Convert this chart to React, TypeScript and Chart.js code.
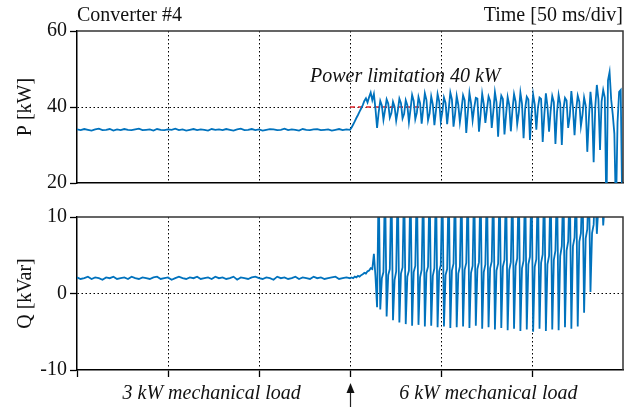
import { useEffect, useRef } from 'react';
import { Chart, registerables } from 'chart.js';

Chart.register(...registerables);

const SERIF = "'Liberation Serif', 'Times New Roman', Times, serif";
const BLUE = '#0072BD';
const RED = '#E0262B';
const CLEAR = 'rgba(0,0,0,0)';

// time axis (ms): 6 divisions of 50 ms
const T_MIN = 0;
const T_MAX = 300;
const T_DIV = 50;
const T_STEP = 150; // load step instant
const DT_BEFORE = 2; // sample spacing before the step (ms)
const DT_AFTER = 0.875; // sample spacing after the step (ms)

const TITLE_LEFT = 'Converter #4';
const TITLE_RIGHT = 'Time [50 ms/div]';
const LIMIT_LABEL = 'Power limitation 40 kW';
const LOAD_BEFORE_LABEL = '3 kW mechanical load';
const LOAD_AFTER_LABEL = '6 kW mechanical load';

const P_TICKS = [20, 40, 60];
const Q_TICKS = [-10, 0, 10];

// power limit reference (red dashed)
const LIMIT_T = [150, 188];
const LIMIT_P = [40, 40];

// P [kW], t = 0..150 ms every 2 ms
const P_BEFORE = [
  34.1, 33.9, 34.2, 34.0, 33.8, 34.1, 34.3, 33.9, 34.0, 34.2, 33.8, 34.1, 33.9, 34.2, 34.0, 33.9, 34.1, 34.3, 33.9, 34.0,
  34.1, 33.8, 34.2, 34.0, 33.9, 34.1, 34.0, 34.3, 33.9, 34.1, 33.8, 34.0, 34.2, 33.9, 34.1, 34.0, 33.8, 34.2, 34.0, 34.1,
  33.9, 34.2, 34.0, 33.8, 34.1, 34.3, 33.9, 34.0, 34.2, 33.9, 34.1, 33.8, 34.0, 34.2, 34.1, 33.9, 34.0, 34.3, 33.9, 34.1,
  34.0, 33.8, 34.2, 34.0, 33.9, 34.1, 34.2, 33.9, 34.0, 34.1, 33.8, 34.0, 34.2, 33.9, 34.1, 34.0,
];

// P [kW], t = 150.875 .. 299.625 ms every 0.875 ms
const P_AFTER = [
  34.6, 35.4, 36.2, 37.1, 37.9, 38.8, 39.6, 40.5, 41.6, 42.3, 41.2, 42.6, 43.8, 41.8, 43.4, 39.5, 34.5,
  38.6, 41.6, 40.4, 36.6,
  39.2, 42.0, 40.9, 37.2,
  38.4, 41.4, 40.1, 36.4,
  39.0, 42.2, 41.0, 37.0,
  38.2, 41.8, 40.5, 36.0,
  39.4, 43.2, 41.6, 36.8,
  38.5, 42.6, 41.0, 35.6,
  39.6, 43.6, 41.9, 36.5,
  38.3, 42.8, 40.7, 35.2,
  39.1, 43.4, 41.5, 36.2,
  38.7, 42.5, 41.1, 35.5,
  39.5, 43.8, 42.0, 34.8,
  38.2, 42.9, 40.6, 36.0,
  39.3, 43.1, 41.8, 33.2,
  38.6, 43.7, 41.0, 36.5,
  39.8, 42.4, 42.2, 33.5,
  38.1, 43.5, 40.8, 35.8,
  39.4, 42.8, 41.6, 34.5,
  38.8, 43.9, 41.2, 32.2,
  39.7, 43.0, 42.1, 32.8,
  38.0, 42.6, 40.5, 33.6,
  39.2, 43.4, 41.4, 35.5,
  38.5, 43.8, 40.9, 31.8,
  39.6, 42.7, 42.0, 31.3,
  38.3, 43.3, 40.7, 34.0,
  39.8, 42.5, 42.1, 30.8,
  37.8, 43.6, 40.2, 33.5,
  39.0, 42.9, 41.3, 30.3,
  38.6, 43.2, 40.9, 30.0,
  39.4, 42.4, 41.7, 34.5,
  37.5, 44.2, 39.8, 32.6,
  39.2, 43.0, 41.4, 35.0,
  38.0, 42.5, 40.4, 28.2,
  37.0, 44.0, 39.5, 25.5,
  40.0, 45.8, 42.0, 28.7,
  41.5, 44.5, 42.5, 12.0,
  47.0, 49.2, 42.0, 38.0, 33.0, 12.0, 36.0, 44.0, 44.5, 12.0,
];

// Q [kVar], t = 0..150 ms every 2 ms
const Q_BEFORE = [
  2.1, 1.9, 2.0, 2.2, 1.9, 2.1, 2.0, 1.8, 2.1, 2.0, 2.2, 1.9, 2.0, 2.1, 1.9, 2.2, 2.0, 1.9, 2.1, 2.0,
  1.9, 2.1, 2.2, 1.9, 2.0, 2.1, 1.8, 2.0, 2.2, 2.0, 1.9, 2.1, 2.0, 2.2, 1.9, 2.0, 2.1, 1.9, 2.2, 2.0,
  2.1, 1.9, 2.0, 2.2, 1.8, 2.1, 2.0, 1.9, 2.1, 2.2, 2.0, 1.9, 2.1, 2.0, 1.8, 2.2, 2.0, 2.1, 1.9, 2.0,
  2.2, 1.9, 2.1, 2.0, 1.9, 2.2, 2.0, 2.1, 1.9, 2.0, 2.1, 2.2, 1.9, 2.0, 2.1, 2.0,
];

// Q [kVar], t = 150.875 .. 299.625 ms every 0.875 ms
const Q_AFTER = [
  2.1, 2.0, 2.2, 2.1, 2.3, 2.2, 2.4, 2.5, 2.7, 2.6, 2.9, 3.0, 3.3, 3.2, 5.2, 2.2, -1.8,
  15, -2.1, 2.0, 2.8,
  15, -3.0, 2.4, 3.2,
  15, -3.5, 1.8, 2.9,
  15, -3.8, 2.6, 3.4,
  15, -4.0, 2.2, 3.0,
  15, -4.2, 2.8, 3.6,
  15, -4.1, 2.1, 3.1,
  15, -4.3, 2.7, 3.5,
  15, -4.2, 2.3, 3.3,
  15, -4.4, 2.9, 3.7,
  15, -4.3, 2.4, 3.2,
  15, -4.5, 3.0, 3.9,
  15, -4.4, 2.6, 3.5,
  15, -4.3, 3.1, 4.0,
  15, -4.5, 2.7, 3.6,
  15, -4.2, 3.2, 4.1,
  15, -4.6, 2.8, 3.8,
  15, -4.4, 3.3, 4.2,
  15, -4.7, 3.0, 3.9,
  15, -4.5, 3.5, 4.4,
  15, -4.8, 3.1, 4.1,
  15, -4.6, 3.6, 4.6,
  15, -4.9, 3.3, 4.3,
  15, -4.7, 3.8, 4.8,
  15, -5.0, 3.5, 4.5,
  15, -4.6, 4.0, 5.1,
  15, -4.9, 3.8, 4.9,
  15, -4.7, 4.4, 5.6,
  15, -4.8, 4.9, 6.2,
  15, -4.4, 5.6, 6.8,
  15, -4.6, 6.2, 7.3,
  15, -4.3, 6.8, 7.9,
  15, -2.5, 7.2, 8.4,
  15, 0.2, 7.9, 9.0,
  15, 7.8, 11.5, 12.5,
  15, 8.9, 12.0, 13.0,
  14, 15, 14, 15, 14, 15, 14, 15, 14, 15,
];

function toPoints(before: number[], after: number[]) {
  const pts = before.map((v, i) => ({ x: T_MIN + i * DT_BEFORE, y: v }));
  after.forEach((v, i) => pts.push({ x: T_STEP + (i + 1) * DT_AFTER, y: v }));
  return pts;
}

function makeScales(opts: {
  ticks: number[];
  gridAt: number;
  title: string;
  bottomTicks: boolean;
  xHeight: number;
}) {
  const yMin = opts.ticks[0];
  const yMax = opts.ticks[opts.ticks.length - 1];
  return {
    x: {
      type: 'linear',
      min: T_MIN,
      max: T_MAX,
      ticks: { display: false, stepSize: T_DIV },
      grid: {
        color: (c: any) => (c.tick && c.tick.value > T_MIN && c.tick.value < T_MAX ? '#000' : CLEAR),
        lineWidth: 1,
        drawTicks: opts.bottomTicks,
        tickLength: 7,
        tickWidth: 1.3,
        tickColor: (c: any) => (c.tick && c.tick.value < T_MAX ? '#000' : CLEAR),
      },
      border: { display: true, color: '#000', width: 1.5, dash: [1.5, 2.5] },
      afterFit: (s: any) => {
        s.height = opts.xHeight;
      },
    },
    y: {
      type: 'linear',
      min: yMin,
      max: yMax,
      afterBuildTicks: (s: any) => {
        s.ticks = opts.ticks.map((v) => ({ value: v }));
      },
      ticks: {
        color: '#111',
        padding: 3,
        font: { family: SERIF, size: 20 },
      },
      grid: {
        color: (c: any) => (c.tick && c.tick.value === opts.gridAt ? '#000' : CLEAR),
        lineWidth: 1,
        drawTicks: true,
        tickLength: 7,
        tickWidth: 1.3,
        tickColor: '#000',
      },
      border: { display: true, color: '#000', width: 1.5, dash: [1.5, 2.5] },
      title: {
        display: true,
        text: opts.title,
        color: '#111',
        font: { family: SERIF, size: 20 },
        padding: { top: 14, bottom: 0 },
      },
      afterFit: (s: any) => {
        s.width = 77;
      },
    },
  };
}

function frame(chart: any) {
  const { ctx, chartArea } = chart;
  ctx.save();
  ctx.strokeStyle = '#333';
  ctx.lineWidth = 1.5;
  ctx.beginPath();
  ctx.moveTo(chartArea.left, chartArea.top);
  ctx.lineTo(chartArea.right, chartArea.top);
  ctx.lineTo(chartArea.right, chartArea.bottom);
  ctx.stroke();
  ctx.restore();
}

const topAnnotations = {
  id: 'topAnnotations',
  afterDraw(chart: any) {
    frame(chart);
    const { ctx, chartArea, scales } = chart;
    ctx.save();
    ctx.fillStyle = '#111';
    ctx.textBaseline = 'alphabetic';
    ctx.font = `20px ${SERIF}`;
    ctx.textAlign = 'left';
    ctx.fillText(TITLE_LEFT, chartArea.left, 21);
    ctx.textAlign = 'right';
    ctx.fillText(TITLE_RIGHT, chartArea.right, 21);
    ctx.font = `italic 20px ${SERIF}`;
    ctx.textAlign = 'left';
    ctx.fillText(LIMIT_LABEL, scales.x.getPixelForValue(128), scales.y.getPixelForValue(46.6));
    ctx.restore();
  },
};

const bottomAnnotations = {
  id: 'bottomAnnotations',
  afterDraw(chart: any) {
    frame(chart);
    const { ctx, scales } = chart;
    ctx.save();
    ctx.fillStyle = '#111';
    ctx.font = `italic 20px ${SERIF}`;
    ctx.textAlign = 'center';
    ctx.textBaseline = 'alphabetic';
    ctx.fillText(LOAD_BEFORE_LABEL, scales.x.getPixelForValue(74), 199);
    ctx.fillText(LOAD_AFTER_LABEL, scales.x.getPixelForValue(226), 199);
    // arrow marking the load step
    const ax = Math.round(scales.x.getPixelForValue(T_STEP)) + 0.5;
    ctx.strokeStyle = '#222';
    ctx.fillStyle = '#111';
    ctx.lineWidth = 1.2;
    ctx.beginPath();
    ctx.moveTo(ax, 207);
    ctx.lineTo(ax, 189);
    ctx.stroke();
    ctx.beginPath();
    ctx.moveTo(ax, 183);
    ctx.lineTo(ax - 4, 193);
    ctx.lineTo(ax + 4, 193);
    ctx.closePath();
    ctx.fill();
    ctx.restore();
  },
};

export default function App() {
  const topRef = useRef<HTMLCanvasElement>(null);
  const botRef = useRef<HTMLCanvasElement>(null);

  useEffect(() => {
    const baseOptions = {
      responsive: false,
      animation: false,
      events: [],
      plugins: { legend: { display: false }, tooltip: { enabled: false } },
      elements: { point: { radius: 0 }, line: { tension: 0 } },
    };
    const c1 = new Chart(topRef.current as HTMLCanvasElement, {
      type: 'line',
      data: {
        datasets: [
          {
            data: toPoints(P_BEFORE, P_AFTER),
            borderColor: BLUE,
            borderWidth: 1.8,
            pointRadius: 0,
            clip: 0,
          },
          {
            data: LIMIT_T.map((t, i) => ({ x: t, y: LIMIT_P[i] })),
            borderColor: RED,
            borderWidth: 1.5,
            borderDash: [5, 3],
            pointRadius: 0,
            clip: 0,
          },
        ],
      },
      options: {
        ...baseOptions,
        layout: { padding: { left: 0, right: 17, top: 31, bottom: 17 } },
        scales: makeScales({ ticks: P_TICKS, gridAt: 40, title: 'P [kW]', bottomTicks: false, xHeight: 0 }),
      },
      plugins: [topAnnotations],
    } as any);
    const c2 = new Chart(botRef.current as HTMLCanvasElement, {
      type: 'line',
      data: {
        datasets: [
          {
            data: toPoints(Q_BEFORE, Q_AFTER),
            borderColor: BLUE,
            borderWidth: 1.8,
            pointRadius: 0,
            clip: 0,
          },
        ],
      },
      options: {
        ...baseOptions,
        layout: { padding: { left: 0, right: 17, top: 17, bottom: 0 } },
        scales: makeScales({ ticks: Q_TICKS, gridAt: 0, title: 'Q [kVar]', bottomTicks: true, xHeight: 38 }),
      },
      plugins: [bottomAnnotations],
    } as any);
    return () => {
      c1.destroy();
      c2.destroy();
    };
  }, []);

  return (
    <div style={{ position: 'fixed', left: 0, top: 0, width: 640, height: 408, background: '#fff' }}>
      <canvas
        ref={topRef}
        width={640}
        height={200}
        style={{ position: 'absolute', left: 0, top: 0, width: 640, height: 200 }}
      />
      <canvas
        ref={botRef}
        width={640}
        height={208}
        style={{ position: 'absolute', left: 0, top: 200, width: 640, height: 208 }}
      />
    </div>
  );
}
